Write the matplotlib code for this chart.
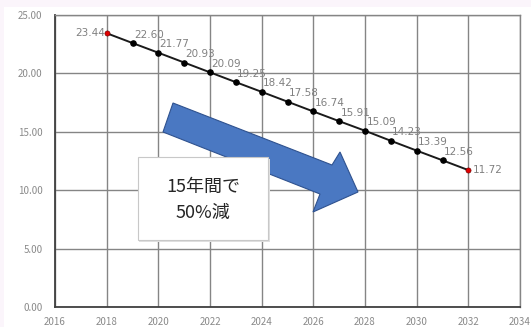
import matplotlib
matplotlib.use("Agg")
import matplotlib.pyplot as plt
from matplotlib.patches import Polygon, Rectangle

plt.rcParams['font.family'] = ['Noto Sans CJK JP', 'DejaVu Sans']

years = [2018, 2019, 2020, 2021, 2022, 2023, 2024, 2025, 2026, 2027,
         2028, 2029, 2030, 2031, 2032]
values = [23.44, 22.60, 21.77, 20.93, 20.09, 19.25, 18.42, 17.58, 16.74, 15.91,
          15.09, 14.23, 13.39, 12.56, 11.72]
x_ticks = [2016, 2018, 2020, 2022, 2024, 2026, 2028, 2030, 2032, 2034]
y_ticks = [0, 5, 10, 15, 20, 25]
note_text = "15年間で\n50%減"

W, H = 531, 327
fig = plt.figure(figsize=(W / 100, H / 100), dpi=100)
fig.patch.set_facecolor('#fbf5fb')
# white chart area inside a faint pink border
fig.patches.append(Rectangle((4 / W, 0), 1 - 4 / W, 1 - 7 / H, transform=fig.transFigure,
                             facecolor='white', edgecolor='none', zorder=-10))

ax = fig.add_axes([55 / W, 20 / H, 465 / W, 292 / H])
ax.set_zorder(1)
ax.set_facecolor('white')
ax.set_xlim(2016, 2034)
ax.set_ylim(0, 25)
ax.set_xticks(x_ticks)
ax.set_yticks(y_ticks)
ax.set_xticklabels([str(t) for t in x_ticks])
ax.set_yticklabels([f"{t:.2f}" for t in y_ticks])
ax.tick_params(length=0, labelsize=7, colors='#8a8a8a')
ax.tick_params(axis='y', pad=9)
ax.tick_params(axis='x', pad=7)
ax.grid(True, color='#858585', linewidth=1.0)
ax.set_axisbelow(True)
for s in ['top', 'right']:
    ax.spines[s].set_color('#858585')
    ax.spines[s].set_linewidth(1.0)
for s in ['left', 'bottom']:
    ax.spines[s].set_color('#404040')
    ax.spines[s].set_linewidth(1.3)

ax.plot(years, values, color='#1a1a1a', linewidth=1.4, zorder=3)
ax.scatter(years[1:-1], values[1:-1], s=14, color='black', zorder=4)
ax.scatter([years[0], years[-1]], [values[0], values[-1]], s=14, color='#e00000',
           edgecolor='#600000', linewidth=0.4, zorder=5)

lab_kw = dict(fontsize=7.5, color='#808080', family='DejaVu Sans', zorder=6)
for i, (x, y) in enumerate(zip(years, values)):
    txt = f"{y:.2f}"
    if i == 0:
        ax.annotate(txt, (x, y), xytext=(-1, 0), textcoords='offset points',
                    ha='right', va='center', **lab_kw)
    elif i == len(years) - 1:
        ax.annotate(txt, (x, y), xytext=(3, 0), textcoords='offset points',
                    ha='left', va='center', **lab_kw)
    else:
        ax.annotate(txt, (x, y), xytext=(1, 2.5), textcoords='offset points',
                    ha='left', va='bottom', **lab_kw)

# big blue arrow (pixel coords, y from top)
pts = [(173, 103), (332, 165), (340, 152), (358, 192), (313, 212), (320, 194), (163, 132)]
poly = Polygon([(px / W, 1 - py / H) for px, py in pts], closed=True,
               transform=fig.transFigure, facecolor='#4a78c2', edgecolor='#2f528f',
               linewidth=0.8, zorder=7)
fig.patches.append(poly)

# text box
bx0, by0, bx1, by1 = 138, 157, 268, 240
fig.patches.append(Rectangle((bx0 / W + 1.5 / W, 1 - (by1 + 1.5) / H), (bx1 - bx0) / W, (by1 - by0) / H,
                             transform=fig.transFigure, facecolor='#e0e0e0',
                             edgecolor='none', zorder=8))
fig.patches.append(Rectangle((bx0 / W, 1 - by1 / H), (bx1 - bx0) / W, (by1 - by0) / H,
                             transform=fig.transFigure, facecolor='white',
                             edgecolor='#c8c8c8', linewidth=0.8, zorder=9))
fig.text((bx0 + bx1) / 2 / W, 1 - 200 / H, note_text, ha='center', va='center',
         fontsize=13, color='#262626', linespacing=1.55, zorder=10)

fig.savefig('out.png', dpi=100, facecolor=fig.get_facecolor())
